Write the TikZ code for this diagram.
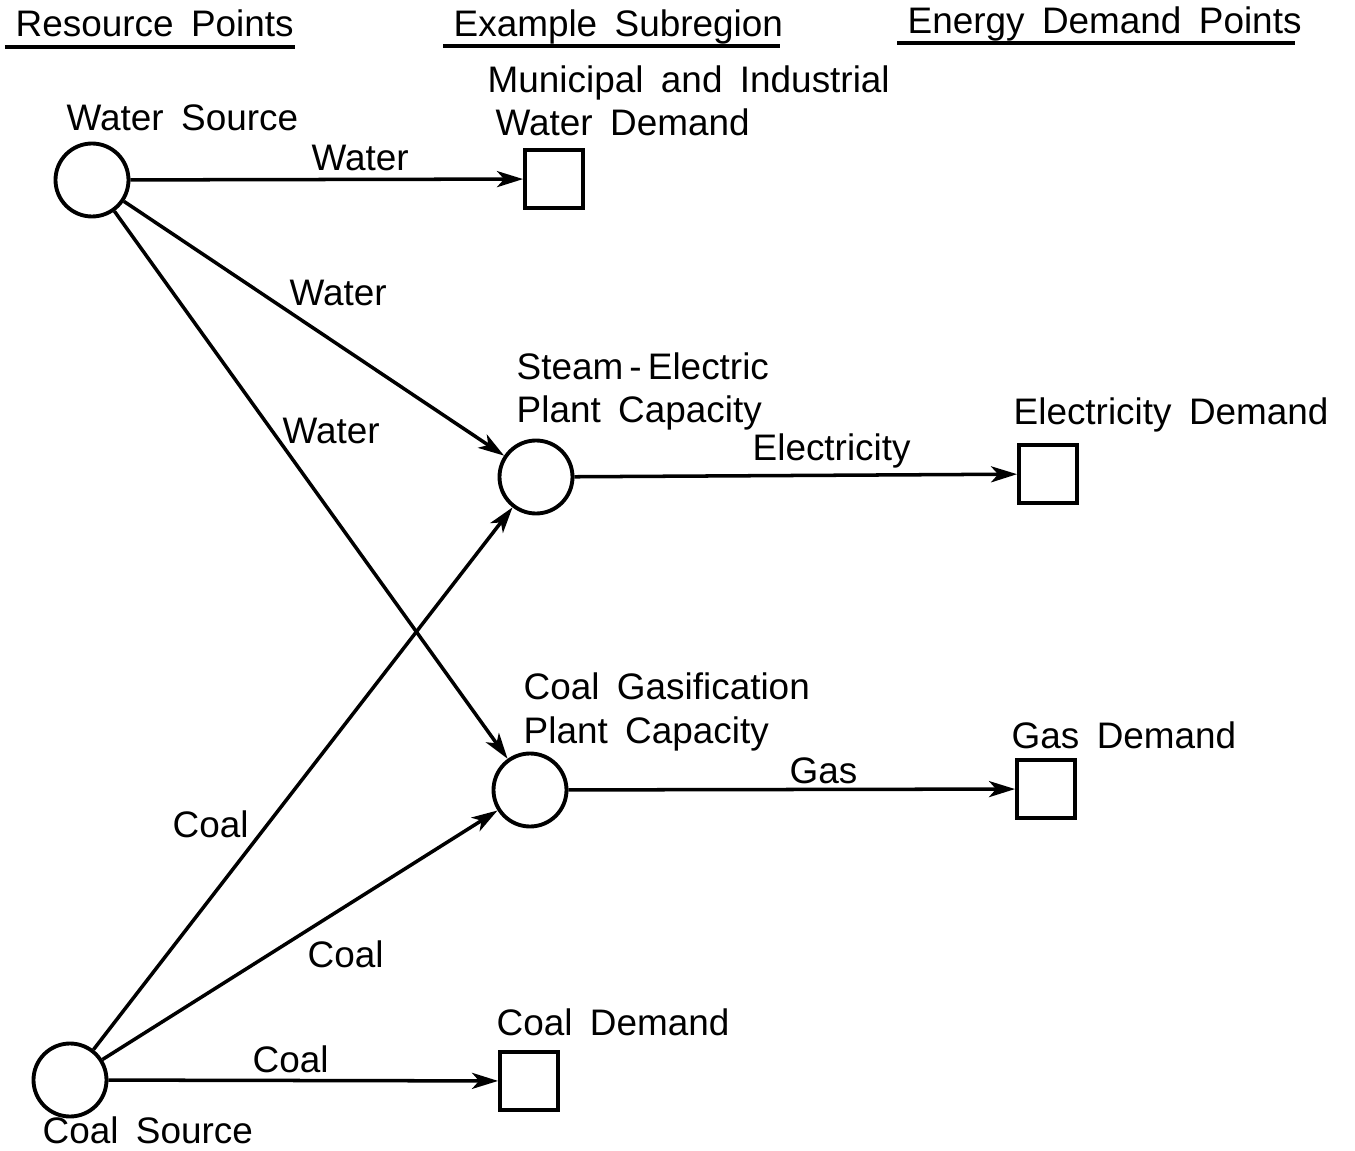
\documentclass[tikz,border=0pt]{standalone}
\usepackage{fontspec}
\setmainfont{Liberation Sans}[WordSpace=1.7]
\usetikzlibrary{arrows.meta}

\begin{document}
\begin{tikzpicture}[
  x=0.1mm, y=-0.1mm,
  font=\fontsize{10.5}{12.5}\selectfont,
  >={Stealth[length=2.6mm, width=1.6mm, inset=0.7mm]},
  plant/.style={circle, draw, line width=1.1pt, minimum size=7.3mm, inner sep=0pt},
  demand/.style={draw, line width=1.1pt, minimum size=5.8mm, inner sep=0pt},
  flow/.style={->, line width=1pt},
  lbl/.style={anchor=base west, inner sep=0pt},
  twoline/.style={lbl, align=left},
  rule/.style={line width=1pt}
]
  \useasboundingbox (0,0) rectangle (1355,1151);

  % column headings
  \node[lbl] (hdrres) at (15,37) {Resource Points};
  \node[lbl] (hdrsub) at (453,37) {Example Subregion};
  \node[lbl] (hdrdem) at (907,34) {Energy Demand Points};
  \draw[rule] (5,47) -- (295,47);
  \draw[rule] (443,46) -- (780,46);
  \draw[rule] (897,43) -- (1295,43);

  % sources, plants and demands
  \node[plant] (watersrc) at (92,180) {};
  \node[demand] (waterdem) at (554,179) {};
  \node[plant] (steamplant) at (536,477) {};
  \node[demand] (elecdem) at (1048,474) {};
  \node[plant] (gasplant) at (530,790) {};
  \node[demand] (gasdem) at (1046,789) {};
  \node[plant] (coalsrc) at (70,1080) {};
  \node[demand] (coaldem) at (529,1081) {};

  % names (two-line names sit on their last baseline)
  \node[lbl] (watersrcname) at (66,131) {Water Source};
  \node[lbl] (waterdemname) at (487,93) {Municipal and Industrial};
  \node[lbl] (waterdemname2) at (495,136) {Water Demand};
  \node[twoline] (steamname) at (516,423) {Steam\,-\,Electric\\Plant Capacity};
  \node[lbl] (elecdemname) at (1013,424) {Electricity Demand};
  \node[twoline] (gasname) at (523,743) {Coal Gasification\\Plant Capacity};
  \node[lbl] (gasdemname) at (1011,748) {Gas Demand};
  \node[lbl] (coaldemname) at (496,1035) {Coal Demand};
  \node[lbl] (coalsrcname) at (42,1143) {Coal Source};

  % flows
  \draw[flow] (watersrc) -- (waterdem);
  \draw[flow] (watersrc) -- (steamplant);
  \draw[flow] (watersrc) -- (gasplant);
  \draw[flow] (steamplant) -- (elecdem);
  \draw[flow] (gasplant) -- (gasdem);
  \draw[flow] (coalsrc) -- (steamplant);
  \draw[flow] (coalsrc) -- (gasplant);
  \draw[flow] (coalsrc) -- (coaldem);

  % flow labels
  \node[lbl] (lblwater1) at (311,171) {Water};
  \node[lbl] (lblwater2) at (289,306) {Water};
  \node[lbl] (lblwater3) at (282,444) {Water};
  \node[lbl] (lblelec) at (752,460) {Electricity};
  \node[lbl] (lblgas) at (789,783) {Gas};
  \node[lbl] (lblcoal1) at (172,837) {Coal};
  \node[lbl] (lblcoal2) at (307,967) {Coal};
  \node[lbl] (lblcoal3) at (252,1072) {Coal};
\end{tikzpicture}
\end{document}
